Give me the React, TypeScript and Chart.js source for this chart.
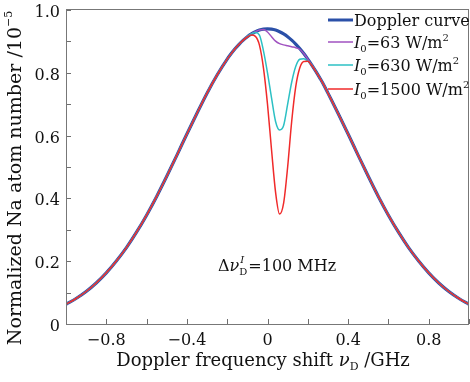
import React, { useEffect, useRef } from "react";
import { Chart, registerables } from "chart.js";

Chart.register(...registerables);

// Doppler frequency shift grid (GHz)
const freqGHz = [
  -1.0, -0.95, -0.9, -0.85, -0.8, -0.75, -0.7, -0.65, -0.6, -0.55, -0.5, -0.45, -0.4, -0.35, -0.3, -0.25, -0.2,
  -0.18, -0.16, -0.14, -0.12, -0.1, -0.08, -0.06, -0.04, -0.02, 0.0, 0.02, 0.04, 0.06, 0.08, 0.1, 0.12, 0.14,
  0.16, 0.18, 0.2, 0.22, 0.24, 0.26, 0.28,
  0.3, 0.35, 0.4, 0.45, 0.5, 0.55, 0.6, 0.65, 0.7, 0.75, 0.8, 0.85, 0.9, 0.95, 1.0,
];

// Doppler curve (normalized Na atom number /1e-5)
const dopplerCurve = [
  0.0625, 0.0812, 0.1035, 0.1307, 0.163, 0.2008, 0.2433, 0.2924, 0.3466, 0.4064, 0.4706, 0.5371, 0.6052, 0.6713, 0.7352, 0.793, 0.8437,
  0.8612, 0.8772, 0.8916, 0.9042, 0.915, 0.9239, 0.9309, 0.936, 0.939, 0.94, 0.939, 0.936, 0.9309, 0.9239, 0.915, 0.9042, 0.8916,
  0.8772, 0.8612, 0.8437, 0.8248, 0.8046, 0.7832, 0.7607,
  0.7352, 0.6713, 0.6052, 0.5371, 0.4706, 0.4064, 0.3466, 0.2924, 0.2433, 0.2008, 0.163, 0.1307, 0.1035, 0.0812, 0.0625,
];

// Hole-burning region
const holeFreqGHz = [
  -0.14, -0.12, -0.1, -0.08, -0.06, -0.04, -0.02, 0.0, 0.02, 0.04, 0.06, 0.08, 0.1, 0.12, 0.14, 0.16, 0.18, 0.2, 0.22, 0.24, 0.26,
];
const holeI63 = [
  0.8916, 0.9042, 0.915, 0.9239, 0.9309, 0.936, 0.938, 0.93, 0.915, 0.901, 0.893, 0.889, 0.886, 0.883, 0.88, 0.875, 0.8612, 0.8437, 0.8248, 0.8046, 0.7832,
];
const holeI630 = [
  0.8916, 0.9042, 0.915, 0.9235, 0.928, 0.92, 0.87, 0.8, 0.72, 0.645, 0.618, 0.632, 0.7, 0.77, 0.82, 0.843, 0.845, 0.837, 0.824, 0.8046, 0.7832,
];
const holeI1500 = [
  0.8916, 0.904, 0.914, 0.92, 0.916, 0.888, 0.815, 0.7, 0.555, 0.42, 0.35, 0.385, 0.5, 0.645, 0.755, 0.815, 0.836, 0.837, 0.823, 0.804, 0.7832,
];

const xTicks = [-1.0, -0.8, -0.6, -0.4, -0.2, 0, 0.2, 0.4, 0.6, 0.8, 1.0];
const xTickLabels = ["", "−0.8", "", "−0.4", "", "0", "", "0.4", "", "0.8", ""];
const yTicks = [0, 0.1, 0.2, 0.3, 0.4, 0.5, 0.6, 0.7, 0.8, 0.9, 1.0];
const yTickLabels = ["0", "", "0.2", "", "0.4", "", "0.6", "", "0.8", "", "1.0"];

const FONT = "'DejaVu Serif', serif";
const COLORS = {
  doppler: "#2b50a8",
  i63: "#a052c0",
  i630: "#2cc0c4",
  i1500: "#f02a2a",
};

function buildSeries(hole: number[]) {
  return freqGHz.map((x, i) => {
    const j = holeFreqGHz.findIndex((h) => Math.abs(h - x) < 1e-9);
    return { x, y: j >= 0 ? hole[j] : dopplerCurve[i] };
  });
}

type Run = { t: string; size: number; italic?: boolean; dy?: number };

function runsWidth(ctx: CanvasRenderingContext2D, runs: Run[]) {
  let w = 0;
  for (const r of runs) {
    ctx.font = `${r.italic ? "italic " : ""}${r.size}px ${FONT}`;
    w += ctx.measureText(r.t).width;
  }
  return w;
}

function drawRuns(ctx: CanvasRenderingContext2D, runs: Run[], x: number, y: number) {
  let cx = x;
  ctx.textBaseline = "alphabetic";
  ctx.textAlign = "left";
  for (const r of runs) {
    ctx.font = `${r.italic ? "italic " : ""}${r.size}px ${FONT}`;
    ctx.fillText(r.t, cx, y + (r.dy || 0));
    cx += ctx.measureText(r.t).width;
  }
}

const overlayPlugin = {
  id: "overlay",
  afterDraw(chart: any) {
    const { ctx, chartArea: a, scales } = chart;
    const xs = scales.x;
    const ys = scales.y;
    ctx.save();
    // inward tick marks
    ctx.strokeStyle = "#6e6e6e";
    ctx.lineWidth = 1;
    ctx.beginPath();
    xTicks.forEach((v) => {
      const px = Math.round(xs.getPixelForValue(v)) + 0.5;
      ctx.moveTo(px, a.bottom);
      ctx.lineTo(px, a.bottom - 5);
    });
    yTicks.forEach((v) => {
      const py = Math.round(ys.getPixelForValue(v)) + 0.5;
      ctx.moveTo(a.left, py);
      ctx.lineTo(a.left + 5, py);
    });
    ctx.stroke();
    ctx.strokeStyle = "#777";
    ctx.strokeRect(a.left + 0.5, a.top - 0.5, a.right - a.left - 1, a.bottom - a.top + 1);

    // tick labels
    ctx.fillStyle = "#111";
    ctx.font = `16px ${FONT}`;
    ctx.textAlign = "center";
    ctx.textBaseline = "alphabetic";
    xTicks.forEach((v, i) => {
      if (xTickLabels[i]) ctx.fillText(xTickLabels[i], xs.getPixelForValue(v), 345);
    });
    ctx.textAlign = "right";
    yTicks.forEach((v, i) => {
      if (yTickLabels[i]) ctx.fillText(yTickLabels[i], 60, ys.getPixelForValue(v) + 7);
    });

    // x title
    const xt: Run[] = [
      { t: "Doppler frequency shift ", size: 18 },
      { t: "ν", size: 18, italic: true },
      { t: "D", size: 11, dy: 4 },
      { t: " /GHz", size: 18 },
    ];
    const xw = runsWidth(ctx, xt);
    drawRuns(ctx, xt, 263 - xw / 2, 366);

    // y title
    const yt: Run[] = [
      { t: "Normalized Na atom number /10", size: 19 },
      { t: "−5", size: 11, dy: -9 },
    ];
    const yw = runsWidth(ctx, yt);
    ctx.save();
    ctx.translate(21, 178);
    ctx.rotate(-Math.PI / 2);
    drawRuns(ctx, yt, -yw / 2, 0);
    ctx.restore();

    // annotation
    drawRuns(
      ctx,
      [
        { t: "Δ", size: 16 },
        { t: "ν", size: 16, italic: true },
      ],
      218,
      271
    );
    ctx.font = `16px ${FONT}`;
    const dW = ctx.measureText("Δ").width;
    ctx.font = `italic 16px ${FONT}`;
    const nuW = ctx.measureText("ν").width;
    const sx = 218 + dW + nuW;
    ctx.font = `10px ${FONT}`;
    ctx.fillText("D", sx, 275);
    ctx.font = `italic 10px ${FONT}`;
    ctx.fillText("I", sx + 1, 263);
    ctx.font = `10px ${FONT}`;
    const subW = ctx.measureText("D").width;
    drawRuns(ctx, [{ t: "=100 MHz", size: 16 }], sx + subW + 1, 271);

    // legend
    const mkRuns = (val: string): Run[] => [
      { t: "I", size: 16, italic: true },
      { t: "0", size: 10, dy: 4 },
      { t: `=${val} W/m`, size: 16 },
      { t: "2", size: 10, dy: -7 },
    ];
    const items = [
      { color: COLORS.doppler, w: 3, y: 20, runs: [{ t: "Doppler curve", size: 16 }] as Run[] },
      { color: COLORS.i63, w: 1.5, y: 42, runs: mkRuns("63") },
      { color: COLORS.i630, w: 1.5, y: 65, runs: mkRuns("630") },
      { color: COLORS.i1500, w: 1.5, y: 89, runs: mkRuns("1500") },
    ];
    for (const it of items) {
      ctx.strokeStyle = it.color;
      ctx.lineWidth = it.w;
      ctx.beginPath();
      ctx.moveTo(328, it.y);
      ctx.lineTo(353, it.y);
      ctx.stroke();
      ctx.fillStyle = "#111";
      drawRuns(ctx, it.runs, 354, it.y + 6);
    }
    ctx.restore();
  },
};

export default function App() {
  const ref = useRef<HTMLCanvasElement | null>(null);
  useEffect(() => {
    if (!ref.current) return;
    const mk = (label: string, hole: number[] | null, color: string, width: number, order: number) => ({
      label,
      data: hole ? buildSeries(hole) : freqGHz.map((x, i) => ({ x, y: dopplerCurve[i] })),
      borderColor: color,
      backgroundColor: color,
      borderWidth: width,
      pointRadius: 0,
      cubicInterpolationMode: "monotone" as const,
      fill: false,
      order,
    });
    const chart = new Chart(ref.current, {
      type: "line",
      data: {
        datasets: [
          mk("Doppler curve", null, COLORS.doppler, 3.2, 4),
          mk("I0=63 W/m2", holeI63, COLORS.i63, 1.5, 3),
          mk("I0=630 W/m2", holeI630, COLORS.i630, 1.5, 2),
          mk("I0=1500 W/m2", holeI1500, COLORS.i1500, 1.5, 1),
        ],
      },
      options: {
        animation: false,
        responsive: true,
        maintainAspectRatio: false,
        layout: { padding: { top: 10, right: 1, left: 0, bottom: 0 } },
        plugins: { legend: { display: false }, tooltip: { enabled: false } },
        scales: {
          x: {
            type: "linear",
            min: -1,
            max: 1,
            grid: { display: false, drawTicks: false },
            border: { display: false },
            ticks: { display: false, stepSize: 0.2 },
            afterFit: (s: any) => {
              s.height = 58;
            },
          },
          y: {
            min: 0,
            max: 1,
            grid: { display: false, drawTicks: false },
            border: { display: false },
            ticks: { display: false, stepSize: 0.1 },
            afterFit: (s: any) => {
              s.width = 66;
            },
          },
        },
      },
      plugins: [overlayPlugin],
    });
    return () => chart.destroy();
  }, []);
  return (
    <div style={{ position: "absolute", left: 0, top: 0, width: 470, height: 382, background: "#fff" }}>
      <canvas ref={ref} />
    </div>
  );
}
